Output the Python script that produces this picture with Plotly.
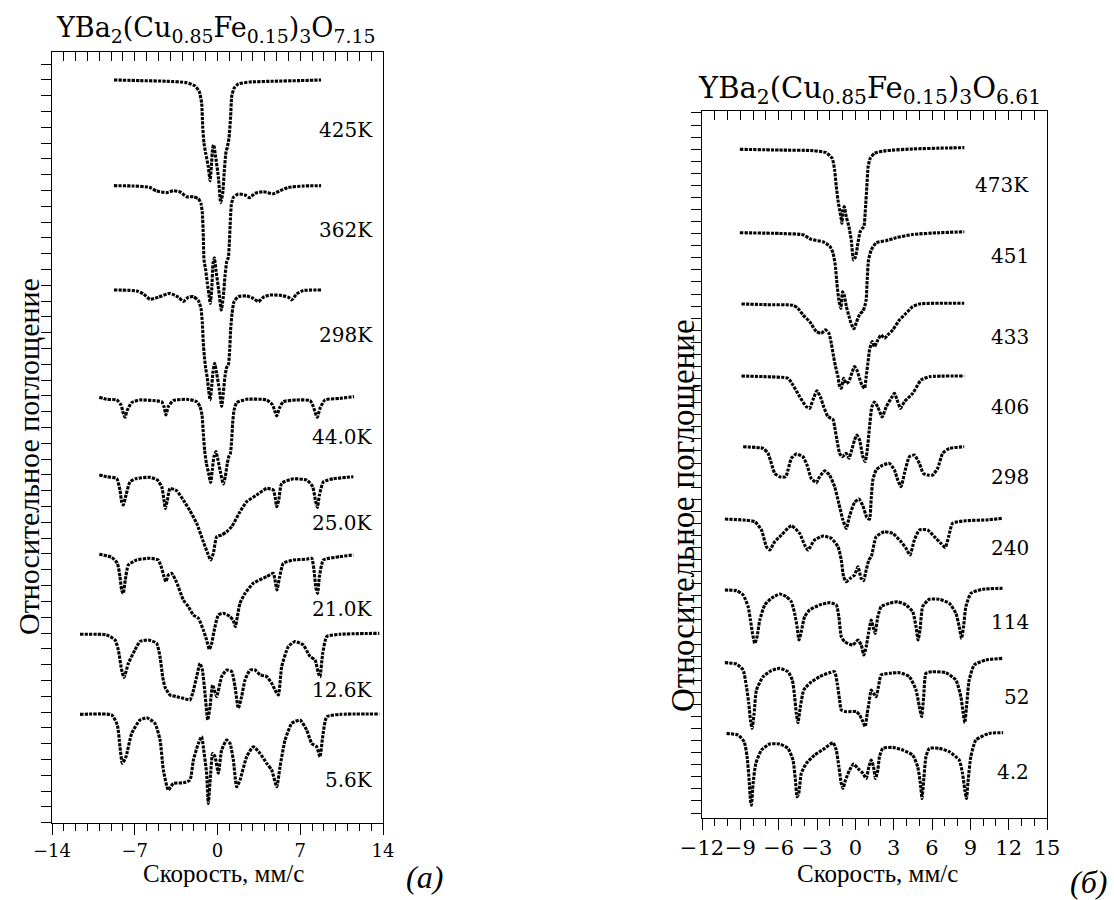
import plotly.graph_objects as go

# ---------------- Panel (a): YBa2(Cu0.85Fe0.15)3O7.15 ----------------
left_labels = ["425K", "362K", "298K", "44.0K", "25.0K", "21.0K", "12.6K", "5.6K"]
left_baselines = [47.0, 40.31, 33.71, 26.79, 21.89, 16.94, 11.92, 6.85]
left_label_y = [43.84, 37.51, 30.86, 24.41, 18.96, 13.52, 8.39, 2.69]

v_425 = [-8.76,-6.56,-4.30,-2.61,-1.90,-1.54,-1.34,-1.25,-1.14,-1.00,-0.78,-0.63,-0.52,-0.41,-0.32,-0.16,0.07,0.27,0.44,0.58,0.72,0.83,0.97,1.11,1.20,1.40,1.76,2.75,4.72,6.98,8.76]
a_425 = [0,-0.04,-0.08,-0.17,-0.38,-0.74,-1.48,-2.95,-4.01,-4.64,-5.49,-6.37,-5.49,-4.32,-4.11,-4.85,-6.12,-7.76,-7.17,-5.70,-4.54,-4.26,-3.69,-2.32,-1.05,-0.53,-0.25,-0.13,-0.08,-0.04,0]

v_362 = [-8.76,-7.12,-5.71,-5.15,-4.30,-3.74,-3.17,-2.61,-2.04,-1.62,-1.40,-1.28,-1.20,-1.14,-1.00,-0.86,-0.72,-0.61,-0.49,-0.38,-0.27,-0.13,0.10,0.32,0.49,0.63,0.78,0.92,1.00,1.09,1.17,1.34,1.76,2.33,2.69,3.17,3.88,4.72,5.29,5.99,7.26,8.76]
a_362 = [0,-0.02,-0.11,-0.34,-0.44,-0.32,-0.40,-0.70,-0.70,-0.82,-1.12,-1.75,-3.23,-4.70,-5.34,-6.18,-6.92,-7.45,-6.60,-4.92,-4.56,-5.34,-6.60,-7.87,-7.03,-5.76,-4.81,-4.54,-3.65,-2.17,-1.22,-0.74,-0.53,-0.59,-0.76,-0.49,-0.38,-0.51,-0.32,-0.11,-0.02,0]

v_298a = [-8.76,-6.84,-6.27,-5.71,-5.01,-4.02,-3.31,-2.89,-2.47,-2.04,-1.62,-1.40,-1.28,-1.20,-1.11,-1.00,-0.86,-0.75,-0.63,-0.52,-0.38,-0.24,-0.07,0.16,0.35,0.49,0.63,0.78,0.92,1.03,1.11,1.23,1.40,1.76,2.47,3.03,3.45,3.88,4.44,5.29,5.99,6.27,6.70,7.26,8.76]
a_298a = [0,-0.06,-0.25,-0.59,-0.46,-0.21,-0.46,-0.72,-0.46,-0.42,-0.68,-1.16,-2.11,-3.38,-4.22,-4.96,-5.59,-6.33,-6.96,-6.33,-5.17,-4.64,-5.27,-6.33,-7.38,-6.54,-5.49,-4.89,-4.75,-3.80,-2.53,-1.48,-0.74,-0.42,-0.38,-0.53,-0.74,-0.46,-0.32,-0.34,-0.46,-0.63,-0.25,-0.04,0]

v_44 = [-10.00,-9.38,-8.53,-8.16,-7.97,-7.83,-7.63,-7.26,-6.56,-5.43,-4.72,-4.53,-4.36,-4.16,-3.74,-2.61,-1.76,-1.48,-1.31,-1.20,-1.09,-0.94,-0.75,-0.58,-0.44,-0.30,-0.13,0.04,0.27,0.49,0.66,0.83,0.97,1.09,1.20,1.28,1.40,1.62,2.47,4.16,4.67,4.86,5.01,5.23,5.57,6.70,7.83,8.11,8.33,8.45,8.67,9.09,10.36,11.55]
a_44 = [0.13,0,-0.04,-0.36,-0.89,-1.14,-0.68,-0.21,-0.04,-0.08,-0.15,-0.46,-0.99,-0.46,-0.08,0,-0.15,-0.46,-0.99,-2.15,-3.21,-4.05,-4.68,-5.27,-4.47,-3.63,-3.31,-3.84,-4.68,-5.36,-4.89,-4.05,-3.59,-3.42,-2.57,-1.52,-0.68,-0.21,0,-0.04,-0.36,-0.78,-1.05,-0.57,-0.15,-0.04,-0.08,-0.46,-0.99,-1.14,-0.57,-0.04,0.06,0.17]

v_25 = [-10.00,-9.38,-8.53,-8.25,-8.11,-7.97,-7.74,-7.40,-6.84,-5.71,-5.09,-4.72,-4.53,-4.41,-4.24,-4.02,-3.45,-2.89,-2.33,-1.76,-1.20,-0.83,-0.58,-0.35,-0.07,0.35,0.78,1.20,1.90,2.47,3.31,4.16,4.72,4.89,5.01,5.18,5.43,6.42,7.54,8.05,8.28,8.45,8.62,8.96,9.80,11.49]
a_25 = [0.11,0,-0.11,-0.84,-1.58,-1.79,-1.16,-0.32,-0.11,-0.04,-0.21,-0.63,-1.48,-2.00,-1.48,-0.74,-0.89,-1.48,-2.15,-2.95,-4.11,-4.85,-5.27,-4.85,-3.80,-3.69,-3.48,-3.16,-2.22,-1.58,-1.16,-0.74,-0.84,-1.37,-1.90,-1.48,-0.42,-0.13,-0.21,-0.63,-1.48,-1.94,-1.16,-0.32,-0.13,0]

v_21 = [-10.00,-8.95,-8.47,-8.25,-8.11,-7.97,-7.80,-7.54,-6.84,-5.71,-5.01,-4.72,-4.53,-4.36,-4.16,-3.88,-3.45,-2.89,-2.47,-2.04,-1.62,-1.20,-0.92,-0.69,-0.49,-0.30,0.07,0.49,1.06,1.34,1.51,1.68,1.90,2.33,3.03,4.16,4.72,4.89,5.03,5.23,5.57,6.42,7.54,7.97,8.16,8.33,8.47,8.62,8.96,10.36,11.49]
a_21 = [0.04,-0.15,-0.53,-1.37,-2.22,-2.43,-1.58,-0.63,-0.32,-0.21,-0.32,-0.84,-1.37,-1.69,-1.27,-1.16,-1.75,-2.85,-3.27,-3.80,-4.01,-4.75,-5.38,-5.97,-5.59,-4.85,-3.80,-3.69,-3.90,-4.16,-4.54,-3.90,-3.06,-2.43,-1.79,-1.37,-1.16,-1.69,-2.22,-1.48,-0.53,-0.32,-0.27,-0.21,-0.95,-2.11,-2.43,-1.37,-0.32,-0.11,0]

v_12 = [-11.63,-9.38,-8.67,-8.39,-8.11,-7.91,-7.54,-6.98,-6.56,-5.85,-5.15,-4.86,-4.64,-4.44,-4.02,-3.45,-2.89,-2.33,-2.10,-1.76,-1.48,-1.28,-1.06,-0.83,-0.63,-0.41,-0.07,0.35,0.78,1.20,1.48,1.76,2.04,2.33,2.75,3.17,3.60,4.16,4.58,4.86,5.15,5.43,5.99,6.56,7.26,7.83,8.25,8.53,8.67,8.90,9.24,10.36,13.69]
a_12 = [0,-0.04,-0.36,-0.99,-2.26,-2.74,-1.84,-0.99,-0.46,-0.36,-0.57,-1.43,-2.68,-3.35,-3.84,-3.95,-4.05,-4.16,-3.73,-2.68,-1.84,-2.26,-3.73,-5.42,-4.58,-3.21,-3.95,-2.68,-2.26,-2.36,-3.31,-4.68,-3.95,-2.89,-2.26,-2.26,-2.57,-2.68,-3.10,-3.52,-3.84,-2.05,-0.78,-0.46,-0.68,-1.41,-1.62,-2.47,-2.68,-1.20,-0.15,0,0.06]

v_5 = [-11.63,-8.95,-8.47,-8.25,-8.05,-7.74,-7.26,-6.56,-5.99,-5.29,-4.86,-4.58,-4.16,-3.74,-2.89,-2.33,-2.04,-1.62,-1.34,-1.20,-0.92,-0.78,-0.58,-0.41,-0.21,0.07,0.35,0.78,1.06,1.34,1.62,1.90,2.47,3.03,3.60,4.16,4.58,5.01,5.29,5.71,6.28,6.98,7.54,7.97,8.39,8.67,8.90,9.24,10.36,13.69]
a_5 = [0,-0.04,-0.68,-2.05,-3.10,-2.68,-1.20,-0.36,-0.21,-0.57,-1.62,-3.52,-4.79,-4.37,-4.33,-4.16,-2.89,-1.84,-1.41,-2.05,-3.73,-5.63,-3.73,-2.47,-2.68,-3.73,-2.26,-1.62,-1.84,-2.89,-4.58,-4.16,-2.68,-2.05,-2.47,-3.10,-3.52,-4.58,-3.31,-1.64,-0.57,-0.36,-0.99,-1.84,-2.05,-2.68,-1.41,-0.15,0,0.02]

# ---------------- Panel (б): YBa2(Cu0.85Fe0.15)3O6.61 ----------------
right_labels = ["473K", "451", "433", "406", "298", "240", "114", "52", "4.2"]
right_baselines = [55.40, 48.49, 42.59, 36.62, 30.76, 24.77, 18.89, 12.87, 7.01]
right_label_y = [52.44, 46.55, 39.88, 34.08, 28.28, 22.37, 16.26, 10.05, 3.84]

v_473 = [-9.04,-5.92,-3.32,-2.28,-1.81,-1.62,-1.49,-1.36,-1.23,-1.13,-1.05,-0.97,-0.87,-0.71,-0.50,-0.32,-0.14,0.02,0.20,0.38,0.54,0.67,0.80,0.90,1.00,1.16,1.50,2.41,4.49,7.10,8.53]
a_473 = [0,-0.06,-0.11,-0.28,-0.75,-1.71,-3.09,-4.20,-5.03,-5.58,-6.13,-5.03,-4.75,-5.58,-6.41,-7.51,-9.17,-8.89,-7.79,-6.82,-6.55,-6.41,-4.75,-3.09,-1.44,-0.75,-0.33,-0.11,0.03,0.11,0.14]

v_451 = [-9.04,-5.92,-4.10,-3.45,-2.53,-2.01,-1.75,-1.57,-1.44,-1.29,-1.13,-1.00,-0.87,-0.71,-0.50,-0.30,-0.11,0.07,0.33,0.59,0.74,0.85,0.93,1.03,1.24,1.63,2.41,3.19,4.49,6.57,8.53]
a_451 = [0,-0.06,-0.17,-0.55,-0.75,-1.10,-1.66,-2.68,-4.20,-5.58,-6.27,-4.89,-5.17,-6.08,-6.91,-7.60,-7.96,-7.46,-6.77,-6.49,-6.08,-5.52,-3.87,-2.27,-1.44,-0.83,-0.66,-0.41,-0.14,0,0.08]

v_433 = [-8.91,-6.96,-4.88,-4.49,-4.10,-3.58,-3.05,-2.67,-2.33,-2.07,-1.88,-1.70,-1.55,-1.36,-1.23,-1.10,-0.92,-0.71,-0.51,-0.24,-0.06,0.12,0.33,0.51,0.72,0.85,0.98,1.11,1.32,1.50,1.76,2.02,2.28,2.54,2.93,3.45,3.97,4.49,5.01,8.52]
a_433 = [0,-0.06,-0.11,-0.36,-0.91,-1.46,-2.29,-2.43,-2.15,-2.43,-3.26,-4.36,-5.19,-6.02,-6.85,-6.99,-6.16,-6.58,-6.44,-5.61,-5.19,-5.47,-6.16,-6.71,-6.99,-6.02,-4.92,-3.81,-3.12,-3.54,-2.98,-2.57,-2.85,-2.57,-2.15,-1.33,-0.77,-0.22,0,0.06]

v_406 = [-8.91,-6.96,-5.27,-4.88,-4.36,-3.84,-3.58,-3.32,-3.01,-2.74,-2.48,-2.14,-1.75,-1.62,-1.44,-1.23,-1.03,-0.71,-0.50,-0.32,-0.06,0.12,0.33,0.59,0.77,0.93,1.11,1.29,1.50,1.76,2.10,2.41,2.80,3.06,3.32,3.53,3.84,4.49,5.14,5.79,8.52]
a_406 = [0,-0.06,-0.19,-0.75,-1.71,-2.54,-2.68,-1.99,-1.22,-1.71,-2.54,-3.37,-3.59,-4.20,-5.30,-6.41,-6.69,-6.41,-6.82,-6.27,-5.30,-4.89,-5.30,-6.69,-7.10,-6.16,-4.23,-2.57,-2.15,-2.57,-3.40,-2.57,-1.85,-1.44,-2.13,-2.68,-2.13,-1.44,-0.33,-0.06,0]

v_298b = [-8.78,-7.22,-6.83,-6.57,-6.31,-5.92,-5.45,-5.27,-5.01,-4.62,-4.10,-3.78,-3.45,-3.05,-2.80,-2.40,-2.02,-1.62,-1.29,-0.97,-0.71,-0.45,-0.06,0.28,0.59,0.90,1.11,1.24,1.37,1.63,2.15,2.67,3.06,3.32,3.58,3.84,4.23,4.62,5.01,5.32,5.66,6.05,6.44,6.83,7.35,8.52]
a_298b = [0,-0.14,-0.55,-1.38,-2.21,-2.49,-2.49,-1.93,-0.97,-0.61,-0.83,-1.52,-2.62,-2.98,-2.49,-1.99,-2.35,-3.31,-4.70,-6.08,-6.77,-5.72,-4.61,-4.33,-4.89,-5.86,-6.00,-4.33,-2.76,-1.93,-1.52,-1.38,-1.93,-2.76,-3.31,-2.21,-0.83,-0.69,-1.38,-2.21,-2.35,-2.35,-1.80,-0.55,-0.14,0]

v_240 = [-10.21,-8.78,-7.87,-7.35,-6.96,-6.70,-6.31,-5.79,-5.01,-4.36,-3.97,-3.71,-3.19,-2.53,-1.88,-1.36,-1.10,-0.92,-0.71,-0.40,-0.06,0.20,0.46,0.64,0.85,1.06,1.26,1.63,2.28,2.93,3.58,3.97,4.28,4.62,5.01,5.66,6.18,6.70,7.04,7.30,7.61,8.65,10.22,11.52]
a_240 = [0,-0.08,-0.22,-0.91,-2.29,-2.57,-1.88,-1.33,-0.55,-1.19,-2.15,-2.57,-1.74,-1.41,-1.60,-2.29,-3.40,-4.78,-5.19,-4.92,-4.64,-3.95,-4.92,-5.11,-4.23,-3.40,-3.07,-1.46,-1.05,-1.19,-1.88,-2.43,-2.98,-1.74,-0.91,-0.91,-1.46,-2.02,-2.35,-1.46,-0.36,-0.14,-0.08,0.06]

v_114 = [-10.21,-9.30,-8.78,-8.39,-8.21,-8.05,-7.87,-7.69,-7.48,-7.09,-6.57,-5.92,-5.40,-5.01,-4.75,-4.56,-4.41,-4.23,-3.97,-3.58,-2.80,-2.01,-1.49,-1.29,-1.10,-0.84,-0.19,0.20,0.46,0.67,0.85,1.03,1.24,1.42,1.55,1.76,2.02,2.67,3.32,3.97,4.49,4.75,4.91,5.06,5.27,5.79,6.57,7.35,7.87,8.13,8.31,8.47,8.65,9.04,9.95,11.52]
a_114 = [0,-0.06,-0.41,-1.38,-2.49,-3.59,-4.42,-3.87,-2.49,-1.24,-0.69,-0.33,-0.55,-0.97,-1.93,-3.04,-4.14,-3.45,-2.21,-1.66,-1.24,-1.05,-1.24,-2.21,-3.87,-4.28,-4.56,-4.14,-4.56,-5.39,-4.70,-3.59,-2.49,-3.18,-3.59,-2.21,-1.38,-1.10,-0.97,-1.24,-1.80,-3.04,-4.14,-3.31,-1.38,-0.77,-0.77,-1.10,-1.93,-3.04,-4.01,-3.04,-1.38,-0.28,0.06,0.14]

v_52 = [-10.21,-9.30,-8.78,-8.52,-8.34,-8.21,-8.08,-7.92,-7.74,-7.22,-6.57,-5.92,-5.27,-4.93,-4.75,-4.62,-4.49,-4.30,-4.04,-3.58,-2.80,-2.02,-1.62,-1.42,-1.23,-1.10,-0.71,0.07,0.33,0.59,0.77,0.93,1.06,1.24,1.42,1.63,1.81,2.02,2.67,3.45,4.23,4.75,5.01,5.19,5.35,5.53,6.05,7.09,7.87,8.26,8.44,8.57,8.73,8.91,9.30,10.22,11.52]
a_52 = [0,-0.11,-0.61,-1.99,-3.37,-4.75,-5.44,-4.20,-2.27,-1.16,-0.66,-0.47,-0.75,-1.44,-2.82,-4.20,-4.97,-3.64,-2.27,-1.71,-1.16,-0.83,-0.75,-1.71,-3.09,-3.92,-4.06,-4.06,-4.33,-4.89,-5.30,-4.20,-3.37,-2.27,-2.54,-2.82,-1.99,-1.02,-0.88,-0.83,-1.16,-2.27,-3.64,-4.47,-2.82,-0.88,-0.75,-0.83,-1.44,-2.82,-4.20,-4.97,-3.31,-1.44,-0.19,0.22,0.36]

v_4 = [-10.08,-9.17,-8.70,-8.47,-8.31,-8.21,-8.13,-8.00,-7.79,-7.35,-6.70,-5.92,-5.27,-4.88,-4.69,-4.56,-4.43,-4.23,-3.84,-3.19,-2.40,-1.75,-1.49,-1.29,-1.10,-0.97,-0.77,-0.45,-0.14,0.20,0.59,0.85,1.06,1.24,1.42,1.58,1.76,1.89,2.15,2.93,3.71,4.49,4.88,5.09,5.22,5.35,5.53,5.79,6.57,7.35,8.13,8.39,8.57,8.70,8.83,9.04,9.43,10.47,11.57]
a_4 = [0,-0.14,-0.69,-1.93,-3.87,-5.52,-5.94,-4.14,-2.49,-1.38,-0.88,-0.88,-1.24,-2.21,-3.87,-5.25,-4.97,-3.31,-2.49,-1.80,-1.24,-0.77,-1.38,-2.76,-4.14,-4.56,-3.87,-3.04,-2.54,-2.90,-3.31,-3.73,-2.76,-2.21,-2.76,-3.73,-3.04,-1.93,-1.24,-1.16,-1.38,-1.80,-2.76,-4.14,-5.39,-3.87,-1.93,-1.24,-1.24,-1.52,-2.21,-3.31,-4.70,-5.39,-3.87,-1.93,-0.55,0,0.06]

left_ticks = [-14, -7, 0, 7, 14]
right_ticks = [-12, -9, -6, -3, 0, 3, 6, 9, 12, 15]

left_spectra = [(v_425, a_425), (v_362, a_362), (v_298a, a_298a), (v_44, a_44),
                (v_25, a_25), (v_21, a_21), (v_12, a_12), (v_5, a_5)]
right_spectra = [(v_473, a_473), (v_451, a_451), (v_433, a_433), (v_406, a_406),
                 (v_298b, a_298b), (v_240, a_240), (v_114, a_114), (v_52, a_52), (v_4, a_4)]

fig = go.Figure()
LINE = dict(color="black", width=3.1, dash="3.2px,1.2px", shape="spline", smoothing=0.5)

for (v, a), base in zip(left_spectra, left_baselines):
    fig.add_trace(go.Scatter(x=v, y=[base + d for d in a], mode="lines", line=LINE,
                             xaxis="x", yaxis="y", showlegend=False, hoverinfo="skip"))
for (v, a), base in zip(right_spectra, right_baselines):
    fig.add_trace(go.Scatter(x=v, y=[base + d for d in a], mode="lines", line=LINE,
                             xaxis="x2", yaxis="y2", showlegend=False, hoverinfo="skip"))

W, H = 1114, 900
LX0, LX1, LY0, LY1 = 52, 383, 52, 823
RX0, RX1, RY0, RY1 = 702, 1047, 110.7, 818

tickfont = dict(family="DejaVu Serif", size=18, color="black")
tickfont_r = dict(family="DejaVu Serif", size=21, color="black")

common_x = dict(showgrid=False, zeroline=False, showline=True, linecolor="black", linewidth=1.3,
                mirror=True, ticks="outside", tickcolor="black", tickwidth=1.3, ticklen=11,
                tickangle=0, automargin=False)
common_y = dict(showgrid=False, zeroline=False, showline=True, linecolor="black", linewidth=1.3,
                mirror=True, ticks="outside", tickcolor="black", tickwidth=1.3, ticklen=10,
                showticklabels=False, dtick=1, automargin=False)

fig.update_layout(
    width=W, height=H, margin=dict(l=0, r=0, t=0, b=0, autoexpand=False),
    paper_bgcolor="white", plot_bgcolor="white",
    xaxis=dict(domain=[LX0 / W, LX1 / W], range=[-14, 14], anchor="y",
               tickmode="array", tickvals=left_ticks, tickfont=tickfont,
               minor=dict(dtick=1, tick0=0, ticks="outside", ticklen=7, tickcolor="black", tickwidth=1.3),
               **common_x),
    yaxis=dict(domain=[1 - LY1 / H, 1 - LY0 / H], range=[-0.025, 48.77], anchor="x",
               tick0=0, **common_y),
    xaxis3=dict(overlaying="x", side="top", range=[-14, 14], anchor="y", showgrid=False,
                zeroline=False, showline=False, ticks="inside", ticklen=9, tickcolor="black",
                tickwidth=1.3, dtick=1, tick0=0, showticklabels=False, automargin=False),
    xaxis2=dict(domain=[RX0 / W, RX1 / W], range=[-12, 15], anchor="y2",
                tickmode="array", tickvals=right_ticks, tickfont=tickfont_r,
                minor=dict(dtick=1, tick0=0, ticks="outside", ticklen=7, tickcolor="black", tickwidth=1.3),
                **common_x),
    yaxis2=dict(domain=[1 - RY1 / H, 1 - RY0 / H], range=[0, 58.6], anchor="x2",
                tick0=0.41, **common_y),
    xaxis4=dict(overlaying="x2", side="top", range=[-12, 15], anchor="y2", showgrid=False,
                zeroline=False, showline=False, ticks="inside", ticklen=9, tickcolor="black",
                tickwidth=1.3, dtick=1, tick0=0, showticklabels=False, automargin=False),
)
fig.add_trace(go.Scatter(x=[0], y=[0], xaxis="x3", yaxis="y", mode="markers",
                         marker=dict(opacity=0), showlegend=False, hoverinfo="skip"))
fig.add_trace(go.Scatter(x=[0], y=[0], xaxis="x4", yaxis="y2", mode="markers",
                         marker=dict(opacity=0), showlegend=False, hoverinfo="skip"))

ann = []
labfont = dict(family="DejaVu Serif", size=20, color="black")
for t, yy in zip(left_labels, left_label_y):
    ann.append(dict(x=13.3, y=yy, xref="x", yref="y", text=t, showarrow=False,
                    xanchor="right", yanchor="middle", font=labfont))
for t, yy in zip(right_labels, right_label_y):
    ann.append(dict(x=13.75, y=yy, xref="x2", yref="y2", text=t, showarrow=False,
                    xanchor="right", yanchor="middle", font=labfont))

ann.append(dict(x=216 / W, y=1 - 30 / H, xref="paper", yref="paper", showarrow=False,
                text="YBa<sub>2</sub>(Cu<sub>0.85</sub>Fe<sub>0.15</sub>)<sub>3</sub>O<sub>7.15</sub>",
                xanchor="center", yanchor="middle", font=dict(family="DejaVu Serif", size=27, color="black")))
ann.append(dict(x=869 / W, y=1 - 90 / H, xref="paper", yref="paper", showarrow=False,
                text="YBa<sub>2</sub>(Cu<sub>0.85</sub>Fe<sub>0.15</sub>)<sub>3</sub>O<sub>6.61</sub>",
                xanchor="center", yanchor="middle", font=dict(family="DejaVu Serif", size=29, color="black")))

SERIF = "Liberation Serif, Times New Roman, serif"
axfont = dict(family=SERIF, size=25, color="black")
ann.append(dict(x=223 / W, y=1 - 873 / H, xref="paper", yref="paper", showarrow=False,
                text="Скорость, мм/с", xanchor="center", yanchor="middle", font=axfont))
ann.append(dict(x=877 / W, y=1 - 873 / H, xref="paper", yref="paper", showarrow=False,
                text="Скорость, мм/с", xanchor="center", yanchor="middle", font=axfont))
ann.append(dict(x=28 / W, y=1 - 457 / H, xref="paper", yref="paper", showarrow=False,
                text="Относительное поглощение", textangle=-90, xanchor="center", yanchor="middle",
                font=dict(family=SERIF, size=30, color="black")))
ann.append(dict(x=683 / W, y=1 - 516 / H, xref="paper", yref="paper", showarrow=False,
                text="Относительное поглощение", textangle=-90, xanchor="center", yanchor="middle",
                font=dict(family=SERIF, size=33, color="black")))
ann.append(dict(x=424 / W, y=1 - 877 / H, xref="paper", yref="paper", showarrow=False,
                text="<i>(a)</i>", xanchor="center", yanchor="middle",
                font=dict(family=SERIF, size=32, color="black")))
ann.append(dict(x=1088 / W, y=1 - 882 / H, xref="paper", yref="paper", showarrow=False,
                text="<i>(б)</i>", xanchor="center", yanchor="middle",
                font=dict(family=SERIF, size=32, color="black")))
fig.update_layout(annotations=ann)

fig.write_html("out.html", config={"displayModeBar": False},
               post_script="document.body.style.margin='0px';document.body.style.padding='0px';")
